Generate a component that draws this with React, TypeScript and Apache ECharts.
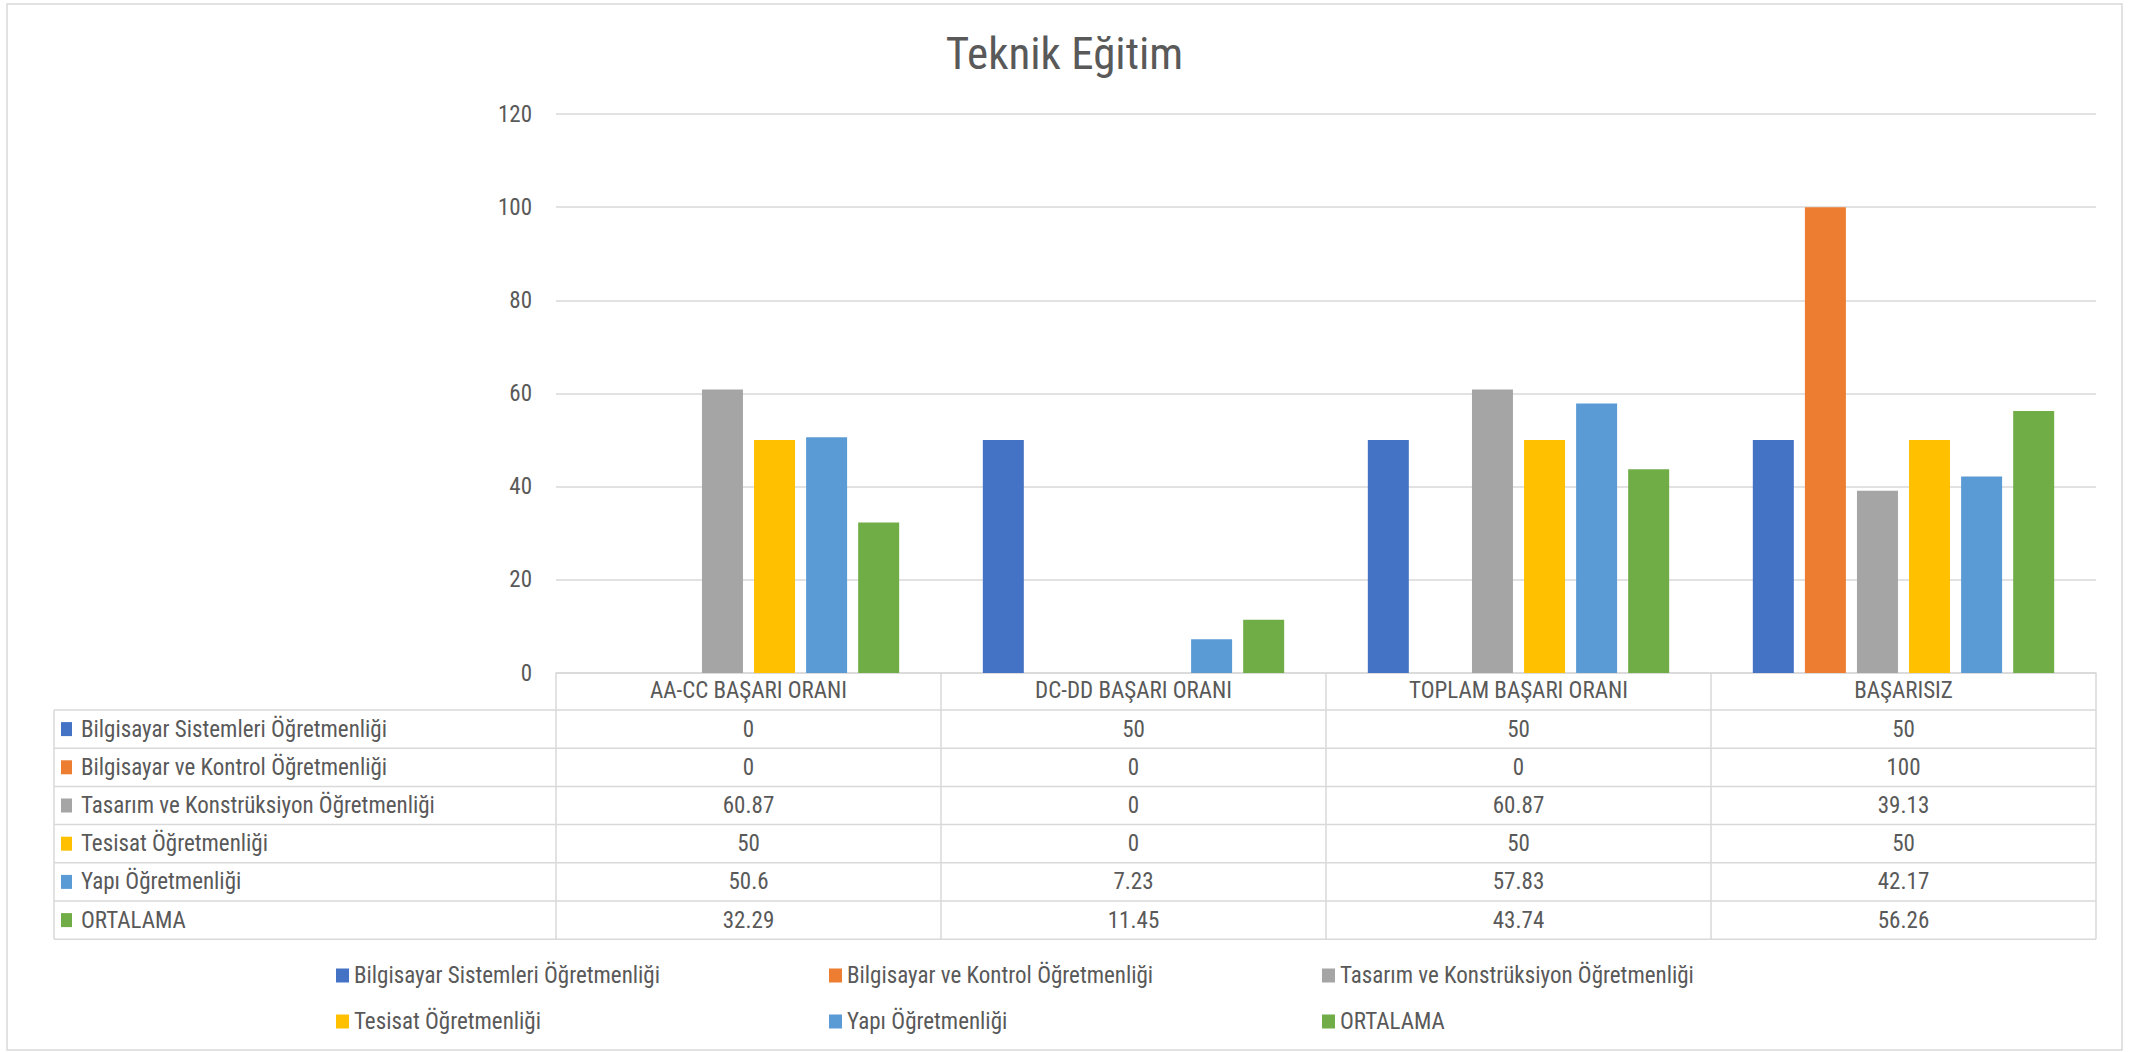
import React, { useEffect, useRef } from "react";
import * as echarts from "echarts";

const categories = ["AA-CC BAŞARI ORANI", "DC-DD BAŞARI ORANI", "TOPLAM BAŞARI ORANI", "BAŞARISIZ"];
const seriesNames = [
  "Bilgisayar Sistemleri Öğretmenliği",
  "Bilgisayar ve Kontrol Öğretmenliği",
  "Tasarım ve Konstrüksiyon Öğretmenliği",
  "Tesisat Öğretmenliği",
  "Yapı Öğretmenliği",
  "ORTALAMA",
];
const bilgisayarSistemleri = [0, 50, 50, 50];
const bilgisayarKontrol = [0, 0, 0, 100];
const tasarimKonstruksiyon = [60.87, 0, 60.87, 39.13];
const tesisat = [50, 0, 50, 50];
const yapi = [50.6, 7.23, 57.83, 42.17];
const ortalama = [32.29, 11.45, 43.74, 56.26];
const seriesValues = [bilgisayarSistemleri, bilgisayarKontrol, tasarimKonstruksiyon, tesisat, yapi, ortalama];
const seriesColors = ["#4472C4", "#ED7D31", "#A5A5A5", "#FFC000", "#5B9BD5", "#70AD47"];
const yMin = 0;
const yMax = 120;
const yInterval = 20;

const FONT = "'Liberation Sans Narrow', 'Roboto Condensed', Roboto, sans-serif";
const TXT = "#595959";
const LINE = "#D9D9D9";

export default function App() {
  const ref = useRef<HTMLDivElement>(null);
  useEffect(() => {
    if (!ref.current) return;
    const chart = echarts.init(ref.current, null, { renderer: "svg" });
    const gridLeft = 556;
    const gridRight = 2096;
    const gridTop = 114;
    const gridBottomY = 673;
    const tableLeft = 54;
    const headerBottom = 710;
    const rowH = 38.2;

    const legendCols = [336, 829, 1322];
    const legendRows = [964, 1010];
    const legends = seriesNames.map((n, i) => ({
      data: [n],
      left: legendCols[i % 3],
      top: legendRows[Math.floor(i / 3)],
      padding: 0,
      itemWidth: 13,
      itemHeight: 14,
      icon: "rect",
      itemGap: 6,
      textStyle: { color: TXT, fontSize: 23, fontFamily: FONT, padding: [0, 0, 0, 0] },
    }));

    chart.setOption({
      animation: false,
      backgroundColor: "#fff",
      title: {
        text: "Teknik Eğitim",
        left: "center",
        top: 31,
        padding: 0,
        textStyle: { color: TXT, fontSize: 45, fontWeight: "normal", fontFamily: FONT },
      },
      legend: legends,
      grid: { left: gridLeft, right: 2129 - gridRight, top: gridTop, height: gridBottomY - gridTop, containLabel: false },
      xAxis: {
        type: "category",
        data: categories,
        axisLine: { show: true, lineStyle: { color: LINE, width: 1.5 } },
        axisTick: { show: false },
        splitLine: { show: false },
        axisLabel: { color: TXT, fontSize: 23, fontFamily: FONT, margin: 6, interval: 0 },
      },
      yAxis: {
        type: "value",
        min: yMin,
        max: yMax,
        interval: yInterval,
        axisLine: { show: false },
        axisTick: { show: false },
        splitLine: { lineStyle: { color: LINE, width: 1.5 } },
        axisLabel: { color: TXT, fontSize: 23, fontFamily: FONT, margin: 24 },
      },
      series: seriesNames.map((n, i) => ({
        name: n,
        type: "bar",
        data: seriesValues[i],
        barWidth: 41,
        barGap: "27%",
        itemStyle: { color: seriesColors[i] },
      })),
    });

    const colEdges = [gridLeft, 941, 1325, 1711, gridRight];
    const centers = categories.map((c, i) => {
      const p = chart.convertToPixel({ xAxisIndex: 0 }, c);
      return typeof p === "number" ? p : (colEdges[i] + colEdges[i + 1]) / 2;
    });
    const bandW = centers.length > 1 ? centers[1] - centers[0] : gridRight - gridLeft;
    const edges = [centers[0] - bandW / 2, ...centers.map((c) => c + bandW / 2)];
    const tableBottom = headerBottom + rowH * seriesNames.length;

    const elems: any[] = [];
    elems.push({
      type: "rect",
      shape: { x: 7, y: 4, width: 2115, height: 1046 },
      style: { fill: "none", stroke: LINE, lineWidth: 1.5 },
      silent: true,
    });
    edges.forEach((x) => {
      elems.push({ type: "line", shape: { x1: x, y1: gridBottomY, x2: x, y2: tableBottom }, style: { stroke: LINE, lineWidth: 1.5 } });
    });
    elems.push({ type: "line", shape: { x1: tableLeft, y1: headerBottom, x2: tableLeft, y2: tableBottom }, style: { stroke: LINE, lineWidth: 1.5 } });
    for (let r = 0; r <= seriesNames.length; r++) {
      const y = headerBottom + r * rowH;
      elems.push({ type: "line", shape: { x1: tableLeft, y1: y, x2: edges[edges.length - 1], y2: y }, style: { stroke: LINE, lineWidth: 1.5 } });
    }
    seriesNames.forEach((n, r) => {
      const cy = headerBottom + r * rowH + rowH / 2;
      elems.push({ type: "rect", shape: { x: 61, y: cy - 7, width: 11, height: 14 }, style: { fill: seriesColors[r] } });
      elems.push({
        type: "text",
        x: 81,
        y: cy,
        style: { text: n, fill: TXT, fontSize: 23, fontFamily: FONT, textAlign: "left", textVerticalAlign: "middle" },
      });
      seriesValues[r].forEach((v, c) => {
        elems.push({
          type: "text",
          x: centers[c],
          y: cy,
          style: { text: String(v), fill: TXT, fontSize: 23, fontFamily: FONT, textAlign: "center", textVerticalAlign: "middle" },
        });
      });
    });
    chart.setOption({ graphic: elems });

    return () => chart.dispose();
  }, []);
  return <div ref={ref} style={{ position: "absolute", left: 0, top: 0, width: 2129, height: 1052 }} />;
}
